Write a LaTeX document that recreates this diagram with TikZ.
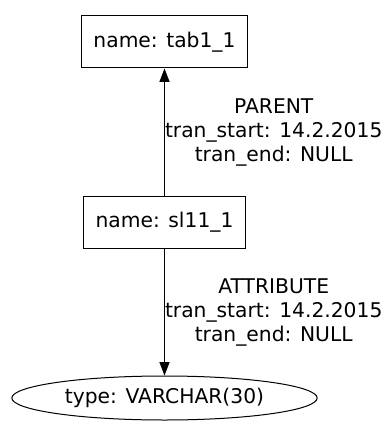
\documentclass[tikz,border=0pt]{standalone}
\usepackage{fontspec}
\setmainfont{DejaVu Sans}
\usetikzlibrary{shapes.geometric,arrows.meta}

\begin{document}
\begin{tikzpicture}[x=0.75pt,y=-0.75pt,
        every node/.style={font=\fontsize{15.2}{18}\selectfont},
        entity/.style={draw, line width=0.75pt, inner xsep=9pt, minimum height=39pt},
        value/.style={draw, ellipse, line width=0.75pt, minimum width=229pt, minimum height=33pt},
        link/.style={line width=0.75pt, -{Triangle[length=10pt,width=7.5pt]}},
        tag/.style={right, inner sep=0pt, align=center}]
        \useasboundingbox (0,0) rectangle (387,424);

        % Nodes
        \node[entity] (tab) at (164.5,42) {name: tab1\_1};
        \node[entity] (sl) at (164.5,222.5) {name: sl11\_1};
        \node[value] (type) at (164.5,398) {type: VARCHAR(30)};

        % Edges
        \draw[link] (sl) -- node[tag] {PARENT\\tran\_start: 14.2.2015\\tran\_end: NULL} (tab);
        \draw[link] (sl) -- node[tag] {ATTRIBUTE\\tran\_start: 14.2.2015\\tran\_end: NULL} (type);
    \end{tikzpicture}
\end{document}
